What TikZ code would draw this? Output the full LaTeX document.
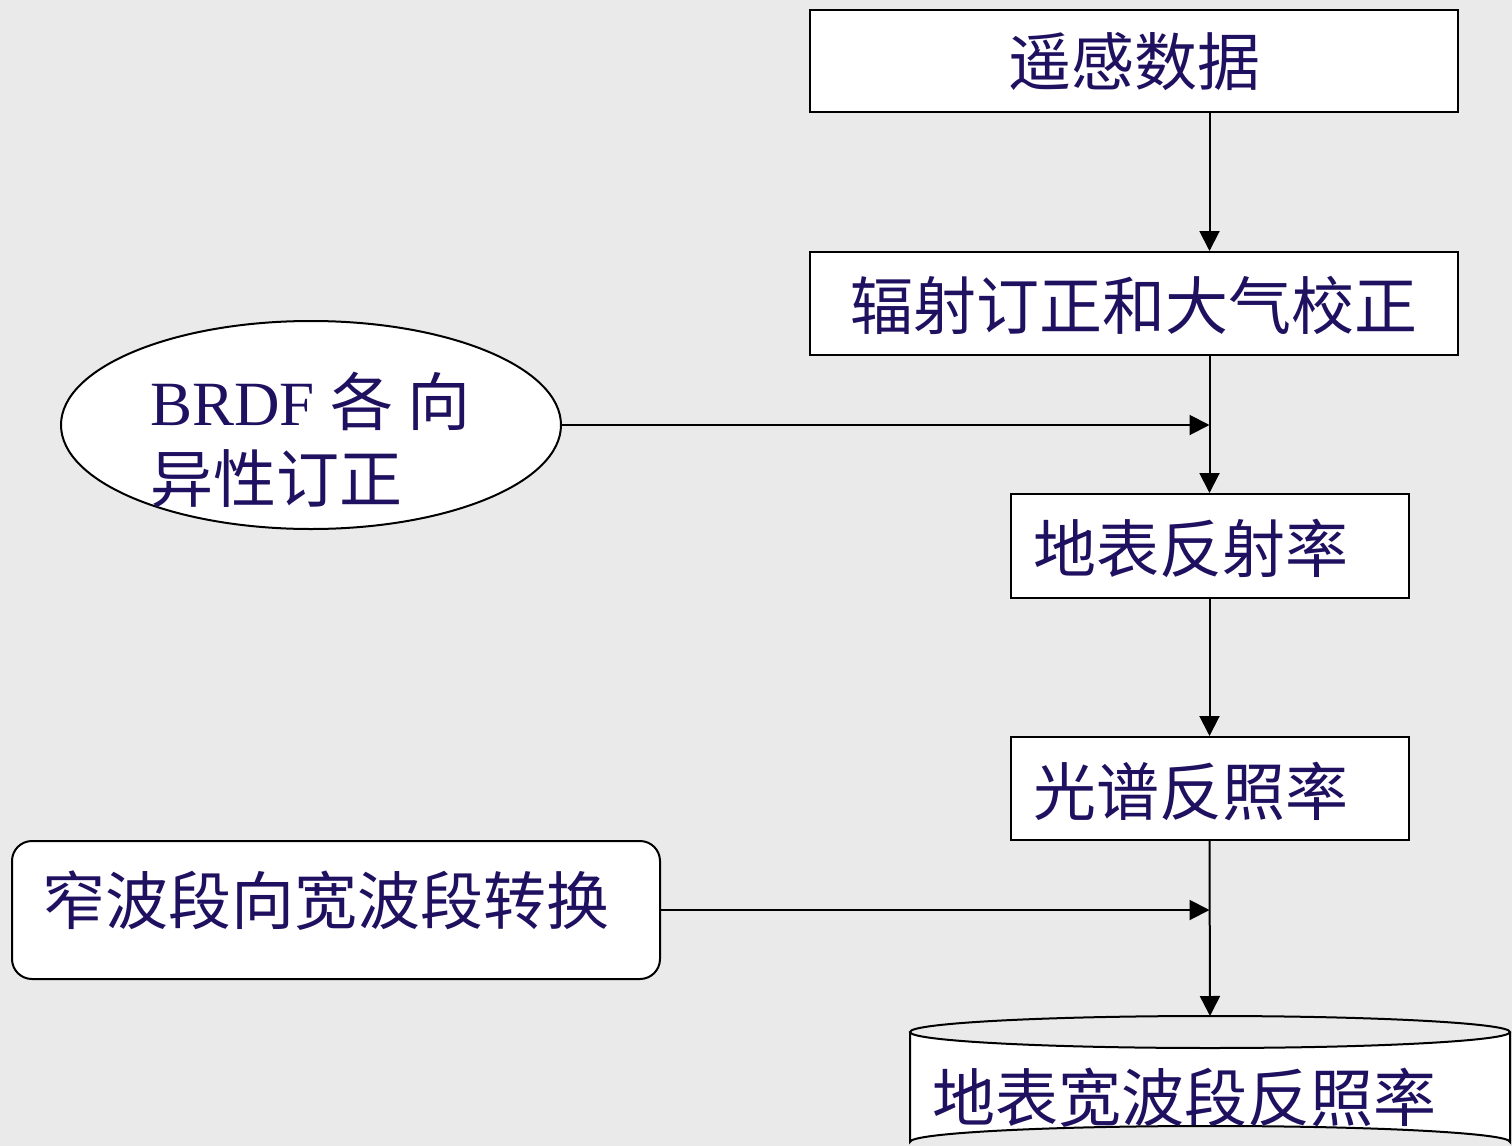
\documentclass[tikz,border=0pt]{standalone}
\usepackage{fontspec}
\setmainfont{Liberation Serif}
\newfontfamily\cjk{Noto Sans CJK SC}
\usetikzlibrary{arrows.meta,shapes.geometric}
\definecolor{bgc}{RGB}{234,234,234}
\definecolor{txc}{RGB}{32,16,96}
\tikzset{
  box/.style={draw=black, line width=1pt, fill=white, inner sep=0pt},
  txt/.style={text=txc, inner sep=0pt, font=\cjk\fontsize{31.5}{39}\selectfont},
  conn/.style={line width=1pt, -{Triangle[length=10pt,width=10pt]}}
}
\begin{document}
\begin{tikzpicture}[x=0.5pt,y=-0.5pt]
\fill[bgc] (0,0) rectangle (1512,1146);
\useasboundingbox (0,0) rectangle (1512,1146);
% boxes
\node[box, minimum width=324pt, minimum height=51pt] (b1) at (1134,61) {};
\node[txt] (t1) at (1134,62) {遥感数据};
\node[box, minimum width=324pt, minimum height=51.5pt] (b2) at (1134,303.5) {};
\node[txt] (t2) at (1134,305) {辐射订正和大气校正};
\node[box, minimum width=199pt, minimum height=52pt] (b3) at (1209.5,546) {};
\node[txt, anchor=west] (t3) at (1033,548) {地表反射率};
\node[box, minimum width=199pt, minimum height=51.5pt] (b4) at (1209.5,788.5) {};
\node[txt, anchor=west] (t4) at (1033,791) {光谱反照率};
% ellipse
\node[box, ellipse, minimum width=250pt, minimum height=104pt] (e1) at (311,425) {};
\node[txt, anchor=west] (e1a) at (150,401) {\fontspec{Liberation Serif}BRDF\ \cjk 各 向};
\node[txt, anchor=west] (e1b) at (150,479) {异性订正};
% rounded rect
\node[box, rounded corners=10pt, minimum width=324pt, minimum height=69pt] (r1) at (336,910) {};
\node[txt, anchor=west] (r1t) at (42,901) {窄波段向宽波段转换};
% cylinder
\coordinate (cyltop) at (1210,1016);
\fill[white] (910,1032) -- (910,1142) arc[start angle=180, end angle=360, x radius=300, y radius=16] -- (1510,1032) arc[start angle=0, end angle=180, x radius=300, y radius=16];
\draw[line width=1pt] (910,1032) -- (910,1142) arc[start angle=180, end angle=360, x radius=300, y radius=16] -- (1510,1032);
\draw[line width=1pt] (1210,1032) ellipse[x radius=300, y radius=16];
\node[txt, anchor=west] (c1) at (932,1098) {地表宽波段反照率};
% connectors
\draw[conn] (b1.south -| b3.north) -- (b2.north -| b3.north);
\draw[conn] (b2.south -| b3.north) -- (b3.north);
\draw[conn] (b3.south) -- (b4.north);
\draw[conn] (b4.south) -- (cyltop);
\draw[conn] (e1.east) -- (e1.east -| b3.north);
\draw[conn] (r1.east) -- (r1.east -| b4.south);
\end{tikzpicture}
\end{document}
